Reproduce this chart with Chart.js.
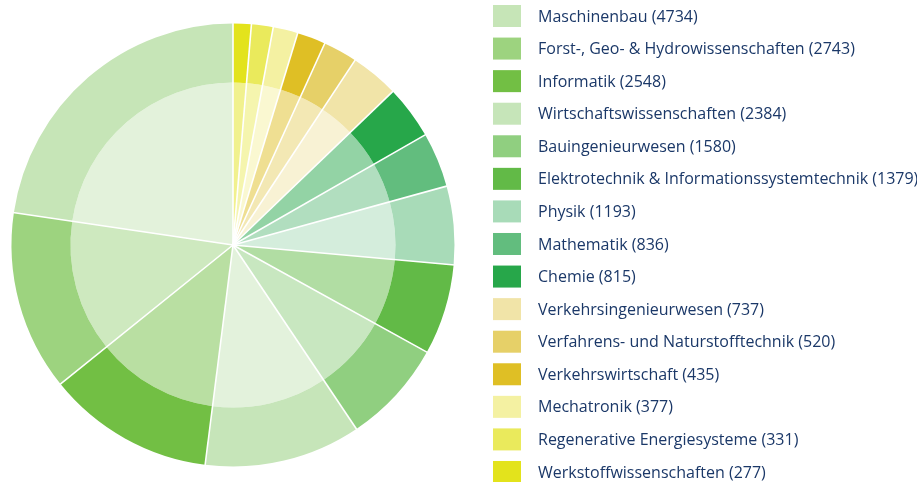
<!DOCTYPE html>
<html>
<head>
<meta charset="utf-8">
<script src="https://cdn.jsdelivr.net/npm/chart.js@4/dist/chart.umd.min.js"></script>
<style>
  html, body { margin: 0; padding: 0; background: #fff; overflow: hidden; }
  #wrap { width: 917px; height: 482px; position: relative; }
</style>
</head>
<body>
<div id="wrap"><canvas id="mycanvas"></canvas></div>
<script>
var faecher = ['Maschinenbau', 'Forst-, Geo- & Hydrowissenschaften', 'Informatik',
  'Wirtschaftswissenschaften', 'Bauingenieurwesen', 'Elektrotechnik & Informationssystemtechnik',
  'Physik', 'Mathematik', 'Chemie', 'Verkehrsingenieurwesen', 'Verfahrens- und Naturstofftechnik',
  'Verkehrswirtschaft', 'Mechatronik', 'Regenerative Energiesysteme', 'Werkstoffwissenschaften'];
var studenten = [4734, 2743, 2548, 2384, 1580, 1379, 1193, 836, 815, 737, 520, 435, 377, 331, 277];
var farben = ['#c6e5b7', '#9dd37f', '#72bf44', '#c6e5b9', '#90cf80', '#62ba47', '#a8dbb8', '#62bd7e',
  '#27a74a', '#f1e4a8', '#e6d068', '#dfbf25', '#f4f1a2', '#eaea5c', '#e3e31c'];

// heller Innenteil = Farbe mit halber Deckkraft auf weiss
function hell(hex) {
  var r = parseInt(hex.substr(1, 2), 16), g = parseInt(hex.substr(3, 2), 16), b = parseInt(hex.substr(5, 2), 16);
  return 'rgb(' + Math.round((r + 255) / 2) + ',' + Math.round((g + 255) / 2) + ',' + Math.round((b + 255) / 2) + ')';
}

// Chart.js zeichnet im Uhrzeigersinn, das Original gegen den Uhrzeigersinn
var werte = studenten.slice().reverse();
var aussen = farben.slice().reverse();
var innen = farben.map(hell).reverse();

// weisse Trennlinien nur radial (kein Kreis zwischen innen und aussen)
var trennlinien = {
  id: 'trennlinien',
  afterDatasetsDraw: function(chart) {
    var ctx = chart.ctx;
    var arcs = chart.getDatasetMeta(0).data;
    ctx.save();
    ctx.strokeStyle = '#ffffff';
    ctx.lineWidth = 1.6;
    arcs.forEach(function(a) {
      ctx.beginPath();
      ctx.moveTo(a.x, a.y);
      ctx.lineTo(a.x + Math.cos(a.startAngle) * (a.outerRadius + 1), a.y + Math.sin(a.startAngle) * (a.outerRadius + 1));
      ctx.stroke();
    });
    ctx.restore();
  }
};

var legende = {
  id: 'legende',
  afterDraw: function(chart) {
    var ctx = chart.ctx;
    ctx.save();
    ctx.font = '16px "Open Sans"';
    ctx.textBaseline = 'middle';
    for (var i = 0; i < faecher.length; i++) {
      var y = 16 + i * 32.57;
      ctx.fillStyle = farben[i];
      ctx.fillRect(493, y - 11, 28, 22);
      ctx.fillStyle = '#1b3868';
      ctx.fillText(faecher[i] + ' (' + studenten[i] + ')', 538, y + 1);
    }
    ctx.restore();
  }
};

var ctx = document.getElementById('mycanvas');
var pie = new Chart(ctx, {
  type: 'pie',
  data: {
    labels: faecher.slice().reverse(),
    datasets: [
      { data: werte, backgroundColor: aussen, borderWidth: 0, weight: 59 },
      { data: werte, backgroundColor: innen, borderWidth: 0, weight: 162.5 }
    ]
  },
  options: {
    responsive: true,
    maintainAspectRatio: false,
    animation: false,
    layout: { padding: { left: 11.5, right: 462.5, top: 23.5, bottom: 15.5 } },
    plugins: { legend: { display: false }, tooltip: { enabled: false } }
  },
  plugins: [trennlinien, legende]
});
document.fonts.ready.then(function() {
  pie.update();
});
</script>
</body>
</html>
